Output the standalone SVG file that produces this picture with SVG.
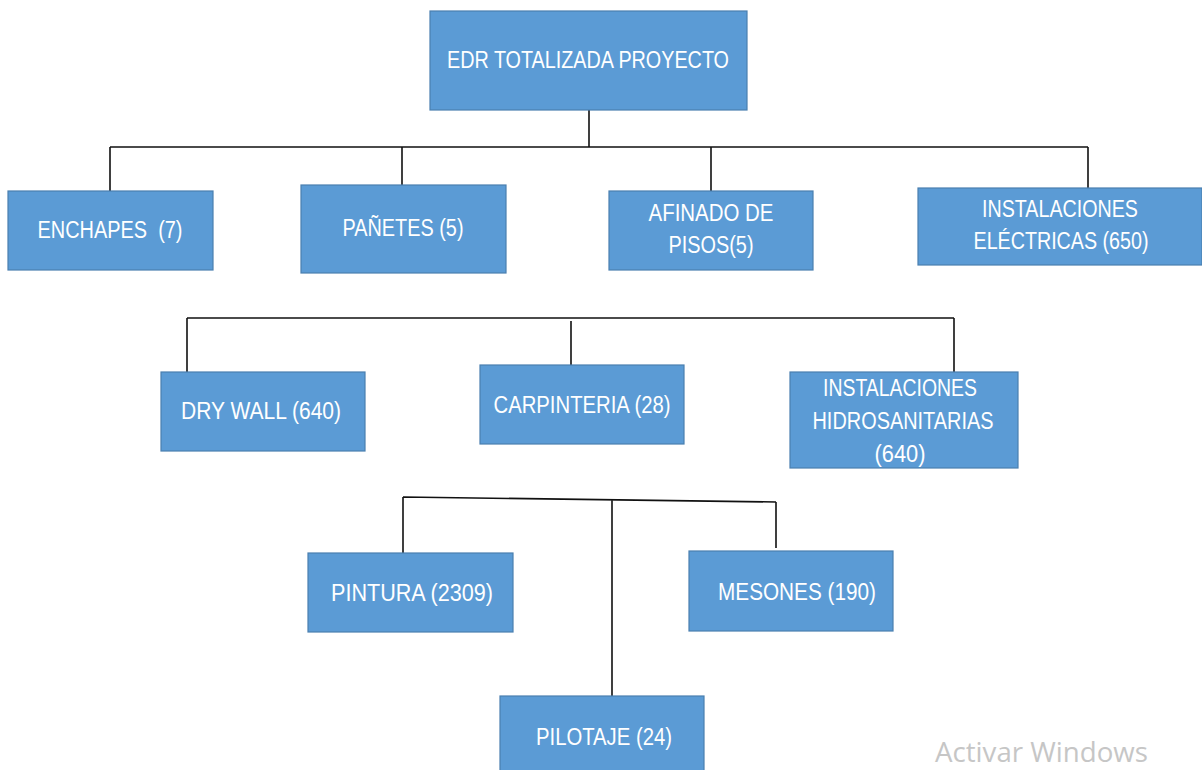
<svg xmlns="http://www.w3.org/2000/svg" width="1202" height="770" viewBox="0 0 1202 770">
  <style>
    .box { fill: #5B9BD5; stroke: #4A7FB0; stroke-width: 1.2; }
    .lbl { font-family: "Liberation Sans", Arial, sans-serif; font-size: 23.5px; fill: #ffffff; text-anchor: middle; }
    .wire { fill: none; stroke: #111111; stroke-width: 1.6; }
    .wm { font-family: "Open Sans", "Noto Sans", sans-serif; font-size: 27px; fill: #c6c6c6; }
  </style>
  <rect width="1202" height="770" fill="#ffffff"/>

  <!-- connectors -->
  <g id="connectors">
    <!-- root to first row -->
    <path class="wire" d="M589 110 V147 M110 147 H1088 M110 147 V191 M402 147 V192 M711 147 V191 M1088 147 V192"/>
    <!-- second row -->
    <path class="wire" d="M187 318 H954 M187 318 V372 M571 321 V365 M954 318 V372"/>
    <!-- third row -->
    <path class="wire" d="M403 497 L776 502 M403 497 V553 M612 500 V696 M776 502 V548"/>
  </g>

  <g id="root">
    <rect class="box" x="430" y="11" width="317" height="99"/>
    <text class="lbl" x="588" y="68" textLength="282" lengthAdjust="spacingAndGlyphs">EDR TOTALIZADA PROYECTO</text>
  </g>

  <g id="enchapes">
    <rect class="box" x="8" y="191" width="205" height="79"/>
    <text class="lbl" x="110" y="238" textLength="145" lengthAdjust="spacingAndGlyphs" style="white-space:pre">ENCHAPES  (7)</text>
  </g>

  <g id="panetes">
    <rect class="box" x="301" y="185" width="205" height="88"/>
    <text class="lbl" x="403" y="236" textLength="121" lengthAdjust="spacingAndGlyphs">PAÑETES (5)</text>
  </g>

  <g id="afinado">
    <rect class="box" x="609" y="191" width="204" height="79"/>
    <text class="lbl" x="711" y="221" textLength="125" lengthAdjust="spacingAndGlyphs">AFINADO DE</text>
    <text class="lbl" x="711" y="253" textLength="85" lengthAdjust="spacingAndGlyphs">PISOS(5)</text>
  </g>

  <g id="electricas">
    <rect class="box" x="918" y="188" width="284" height="77"/>
    <text class="lbl" x="1060" y="217" textLength="156" lengthAdjust="spacingAndGlyphs">INSTALACIONES</text>
    <text class="lbl" x="1061" y="249" textLength="175" lengthAdjust="spacingAndGlyphs">ELÉCTRICAS (650)</text>
  </g>

  <g id="drywall">
    <rect class="box" x="161" y="372" width="204" height="79"/>
    <text class="lbl" x="261" y="419" textLength="160" lengthAdjust="spacingAndGlyphs">DRY WALL (640)</text>
  </g>

  <g id="carpinteria">
    <rect class="box" x="480" y="365" width="204" height="79"/>
    <text class="lbl" x="582" y="413" textLength="177" lengthAdjust="spacingAndGlyphs">CARPINTERIA (28)</text>
  </g>

  <g id="hidrosanitarias">
    <rect class="box" x="790" y="372" width="228" height="96"/>
    <text class="lbl" x="900" y="396" textLength="154" lengthAdjust="spacingAndGlyphs">INSTALACIONES</text>
    <text class="lbl" x="903" y="429" textLength="181" lengthAdjust="spacingAndGlyphs">HIDROSANITARIAS</text>
    <text class="lbl" x="900" y="462" textLength="51" lengthAdjust="spacingAndGlyphs">(640)</text>
  </g>

  <g id="pintura">
    <rect class="box" x="308" y="553" width="205" height="79"/>
    <text class="lbl" x="412" y="601" textLength="162" lengthAdjust="spacingAndGlyphs">PINTURA (2309)</text>
  </g>

  <g id="mesones">
    <rect class="box" x="689" y="551" width="204" height="80"/>
    <text class="lbl" x="797" y="600" textLength="158" lengthAdjust="spacingAndGlyphs">MESONES (190)</text>
  </g>

  <g id="pilotaje">
    <rect class="box" x="500" y="696" width="204" height="80"/>
    <text class="lbl" x="604" y="745" textLength="136" lengthAdjust="spacingAndGlyphs">PILOTAJE (24)</text>
  </g>

  <text class="wm" x="935" y="762" textLength="213" lengthAdjust="spacingAndGlyphs">Activar Windows</text>
</svg>
